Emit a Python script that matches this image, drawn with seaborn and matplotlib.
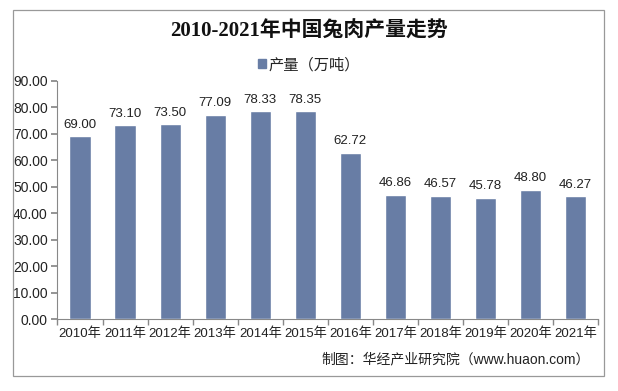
import matplotlib
matplotlib.use("Agg")
import matplotlib.pyplot as plt
import seaborn as sns
import pandas as pd
from matplotlib.patches import Rectangle, Patch

years = ["2010年", "2011年", "2012年", "2013年", "2014年", "2015年",
         "2016年", "2017年", "2018年", "2019年", "2020年", "2021年"]
values = [69.00, 73.10, 73.50, 77.09, 78.33, 78.35, 62.72, 46.86, 46.57, 45.78, 48.80, 46.27]
series_name = "产量（万吨）"
title = "2010-2021年中国兔肉产量走势"
source = "制图：华经产业研究院（www.huaon.com）"
yticks = [0, 10, 20, 30, 40, 50, 60, 70, 80, 90]

sns.set_theme(style="white")
plt.rcParams["font.family"] = ["Liberation Sans", "Noto Sans CJK SC", "DejaVu Sans"]

df = pd.DataFrame({"year": years, "value": values})
color = "#687da5"

fig = plt.figure(figsize=(6.18, 3.91), dpi=100)
ax = fig.add_axes([0.093, 0.184, 0.875, 0.61])
sns.barplot(data=df, x="year", y="value", color=color, width=0.47,
            saturation=1, ax=ax, zorder=3)

ax.set_xlim(-0.5, len(years) - 0.5)
ax.set_ylim(0, 90)
ax.set_yticks(yticks)
ax.set_yticklabels([f"{v:.2f}" for v in yticks], fontsize=10, color="#222222")
ax.set_xticks(range(len(years)))
ax.set_xticklabels(years, fontsize=9.5, color="#222222")
ax.set_xlabel("")
ax.set_ylabel("")
ax.set_xticks([i - 0.5 for i in range(len(years) + 1)], minor=True)
ax.tick_params(axis="x", which="major", length=0, pad=6)
ax.tick_params(axis="x", which="minor", length=4, color="#888888", direction="out", bottom=True)
ax.tick_params(axis="y", length=4, color="#888888", direction="out", left=True, pad=3)
for s in ["top", "right"]:
    ax.spines[s].set_visible(False)
for s in ["left", "bottom"]:
    ax.spines[s].set_color("#888888")
    ax.spines[s].set_linewidth(0.8)

for i, v in enumerate(values):
    ax.annotate(f"{v:.2f}", (i, v), xytext=(0, 4), textcoords="offset points",
                ha="center", va="bottom", fontsize=9.5, color="#222222")

fig.text(0.5, 0.918, title, ha="center", va="center", fontsize=15, fontweight="bold",
         family=["Liberation Serif", "Noto Sans CJK SC"], color="#111111")

leg = fig.legend(handles=[Patch(facecolor=color, edgecolor=color)], labels=[series_name],
                 loc="center", bbox_to_anchor=(0.5, 0.834), frameon=False,
                 fontsize=11, handlelength=0.5, handleheight=0.5, handletextpad=0.2)
for t in leg.get_texts():
    t.set_color("#222222")

fig.text(0.955, 0.082, source, ha="right", va="center", fontsize=10, color="#222222")

fig.patches.append(Rectangle((0.021, 0.038), 0.956, 0.936, transform=fig.transFigure,
                             fill=False, edgecolor="#999999", linewidth=0.9))

fig.savefig("out.png", dpi=100, facecolor="white")
